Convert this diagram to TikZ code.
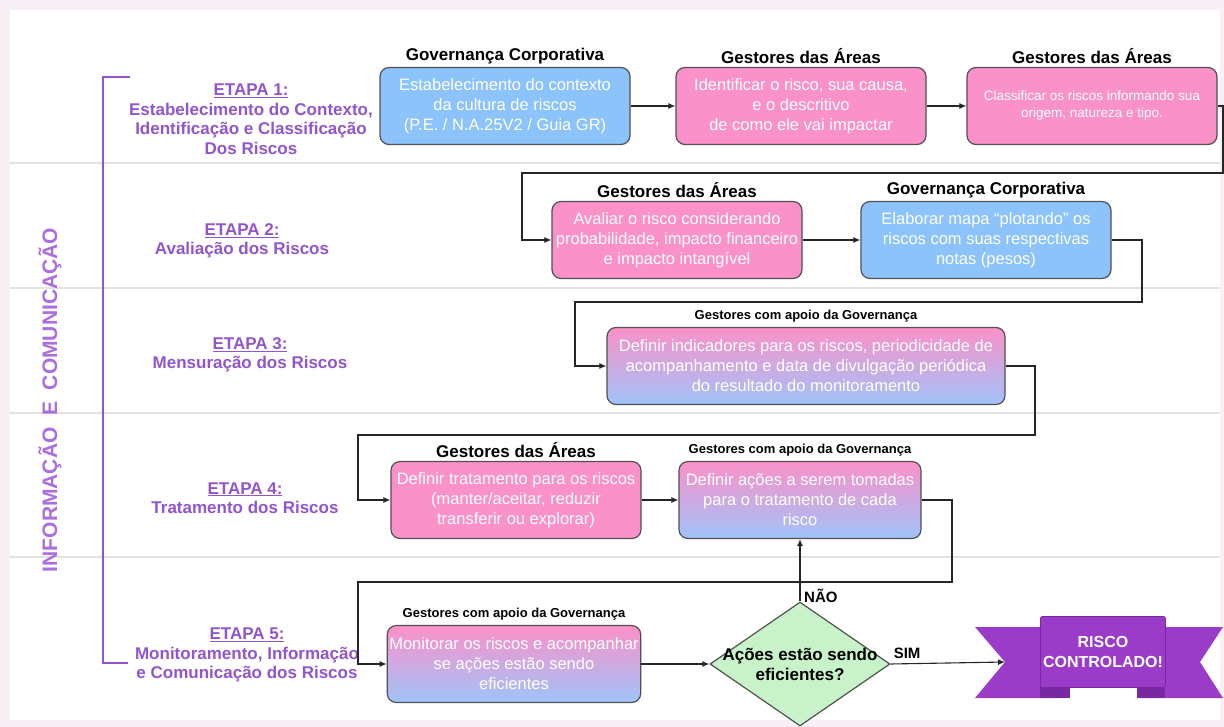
\documentclass[tikz,border=0pt]{standalone}
\usepackage{fontspec}
\setmainfont{Liberation Sans}
\usetikzlibrary{arrows,arrows.meta,positioning,shapes.geometric,calc}
\definecolor{rosa}{RGB}{250,145,200}
\definecolor{azul}{RGB}{140,195,250}
\definecolor{lavanda}{RGB}{160,195,250}
\definecolor{verde}{RGB}{200,242,200}
\definecolor{borda}{RGB}{80,80,85}
\definecolor{roxo}{RGB}{155,60,200}
\definecolor{roxoesc}{RGB}{120,40,160}
\definecolor{lilas}{RGB}{145,85,205}
\definecolor{lilasclaro}{RGB}{170,110,225}
\definecolor{fundo}{RGB}{248,240,244}
\definecolor{divisa}{RGB}{226,226,226}
\tikzset{
	caixa/.style={draw=borda, rounded corners=9pt, line width=1.2pt, text=white, align=center,
			minimum width=250pt, minimum height=77pt, inner sep=2pt, font=\fontsize{16.5}{20}\selectfont},
	cabeca/.style={font=\bfseries\fontsize{17}{19}\selectfont, inner sep=1pt},
	cabecap/.style={font=\bfseries\fontsize{13}{15}\selectfont, inner sep=1pt},
	etapa/.style={align=center, text=lilas, font=\bfseries\fontsize{17}{19.5}\selectfont},
	seta/.style={->, >={Latex[length=7pt, width=6pt]}, line width=1.1pt, draw=black!85}
}

\begin{document}
\begin{tikzpicture}[x=1pt, y=-1pt,
		rotulo/.style={font=\bfseries\fontsize{15}{17}\selectfont, inner sep=1pt},
		losango/.style={diamond, draw=borda, fill=verde, line width=1.2pt, aspect=1.45, inner sep=-6pt,
				minimum width=180pt, minimum height=124pt, align=center, font=\bfseries\fontsize{17}{20}\selectfont}]
	% fundo e faixas
	\fill[fundo] (0,0) rectangle (1224,727);
	\fill[white] (10,10) rectangle (1220,720);
	\useasboundingbox (0,0) rectangle (1224,727);
	\foreach \y in {163,288,413,557}
		\draw[divisa, line width=1.2pt] (10,\y) -- (1220,\y);
	% chave lateral
	\draw[lilas, line width=2.6pt] (130,77) -- (103,77) -- (103,663) -- (128,663);
	\node[rotate=90, text=lilasclaro, font=\bfseries\fontsize{21}{23}\selectfont] (info) at (50,400) {INFORMAÇÃO \ E \ COMUNICAÇÃO};
	% etapas
	\node[etapa] (e1) at (251,119) {\underline{ETAPA 1:}\\Estabelecimento do Contexto,\\Identificação e Classificação\\Dos Riscos};
	\node[etapa] (e2) at (242,241) {\underline{ETAPA 2:}\\Avaliação dos Riscos};
	\node[etapa] (e3) at (250,355) {\underline{ETAPA 3:}\\Mensuração dos Riscos};
	\node[etapa] (e4) at (245,498) {\underline{ETAPA 4:}\\Tratamento dos Riscos};
	\node[etapa] (e5) at (247,655) {\underline{ETAPA 5:}\\Monitoramento, Informação\\e Comunicação dos Riscos};
	% caixas
	\node[caixa, fill=azul] (b1) at (505,106) {Estabelecimento do contexto\\da cultura de riscos\\(P.E. / N.A.25V2 / Guia GR)};
	\node[caixa, fill=rosa] (b2) at (801,106) {Identificar o risco, sua causa,\\e o descritivo\\de como ele vai impactar};
	\node[caixa, fill=rosa, font=\fontsize{13.5}{17}\selectfont] (b3) at (1092,106) {Classificar os riscos informando sua\\origem, natureza e tipo.};
	\node[caixa, fill=rosa] (b4) at (677,240) {Avaliar o risco considerando\\probabilidade, impacto financeiro\\e impacto intangível};
	\node[caixa, fill=azul] (b5) at (986,240) {Elaborar mapa “plotando” os\\riscos com suas respectivas\\notas (pesos)};
	\node[caixa, top color=rosa, bottom color=lavanda, minimum width=398pt] (b6) at (806,366) {Definir indicadores para os riscos, periodicidade de\\acompanhamento e data de divulgação periódica\\do resultado do monitoramento};
	\node[caixa, fill=rosa] (b7) at (516,500) {Definir tratamento para os riscos\\(manter/aceitar, reduzir\\transferir ou explorar)};
	\node[caixa, top color=rosa, bottom color=lavanda, minimum width=242pt] (b8) at (800,500) {Definir ações a serem tomadas\\para o tratamento de cada\\risco};
	\node[caixa, top color=rosa, bottom color=lavanda] (b9) at (514,664) {Monitorar os riscos e acompanhar\\se ações estão sendo\\eficientes};
	% responsaveis
	\node[cabeca, above=2pt of b1] (h1) {Governança Corporativa};
	\node[cabeca, above=2pt of b2] (h2) {Gestores das Áreas};
	\node[cabeca, above=2pt of b3] (h3) {Gestores das Áreas};
	\node[cabeca, above=2pt of b4] (h4) {Gestores das Áreas};
	\node[cabeca, above=2pt of b5] (h5) {Governança Corporativa};
	\node[cabecap, above=4pt of b6] (h6) {Gestores com apoio da Governança};
	\node[cabeca, above=2pt of b7] (h7) {Gestores das Áreas};
	\node[cabecap, above=4pt of b8] (h8) {Gestores com apoio da Governança};
	\node[cabecap, above=4pt of b9] (h9) {Gestores com apoio da Governança};
	% decisao
	\node[losango] (dec) at (800,664) {Ações estão sendo\\eficientes?};
	% faixa final
	\fill[roxo] (975,627) -- (1062,627) -- (1062,698) -- (975,698) -- (1005,662) -- cycle;
	\fill[roxo] (1137,627) -- (1223,627) -- (1200,662) -- (1223,698) -- (1137,698) -- cycle;
	\fill[roxoesc] (1040,686) rectangle (1070,698);
	\fill[roxoesc] (1137,686) rectangle (1165,698);
	\node[fill=roxo, draw=roxoesc, line width=0.8pt, rounded corners=2pt, minimum width=125pt, minimum height=71pt,
		inner sep=0pt, text=white, align=center, font=\bfseries\fontsize{16}{20}\selectfont] (fita) at (1103,652) {RISCO\\CONTROLADO!};
	\coordinate (ban) at (1005,662);
	% ligacoes
	\coordinate (r1) at (1223,173); \coordinate (l1) at (522,173);
	\coordinate (r2) at (1142,302); \coordinate (l2) at (575,302);
	\coordinate (r3) at (1035,435); \coordinate (l3) at (358,435);
	\coordinate (r4) at (952,582);  \coordinate (l4) at (358,582);
	\draw[seta] (b1) -- (b2);
	\draw[seta] (b2) -- (b3);
	\draw[seta] (b3.east) -| (r1) -- (l1) |- (b4.west);
	\draw[seta] (b4) -- (b5);
	\draw[seta] (b5.east) -| (r2) -- (l2) |- (b6.west);
	\draw[seta] (b6.east) -| (r3) -- (l3) |- (b7.west);
	\draw[seta] (b7) -- (b8);
	\draw[seta] (b8.east) -| (r4) -- (l4) |- (b9.west);
	\draw[seta] (b9) -- (dec);
	\draw[seta] (dec.north) -- (b8.south);
	\draw[seta] (dec.east) -- (ban);
	\node[rotulo, anchor=south west] (nao) at ($(dec.north)+(3,2)$) {NÃO};
	\node[rotulo, anchor=south west] (sim) at ($(dec.east)+(2,-4)$) {SIM};
\end{tikzpicture}
\end{document}
